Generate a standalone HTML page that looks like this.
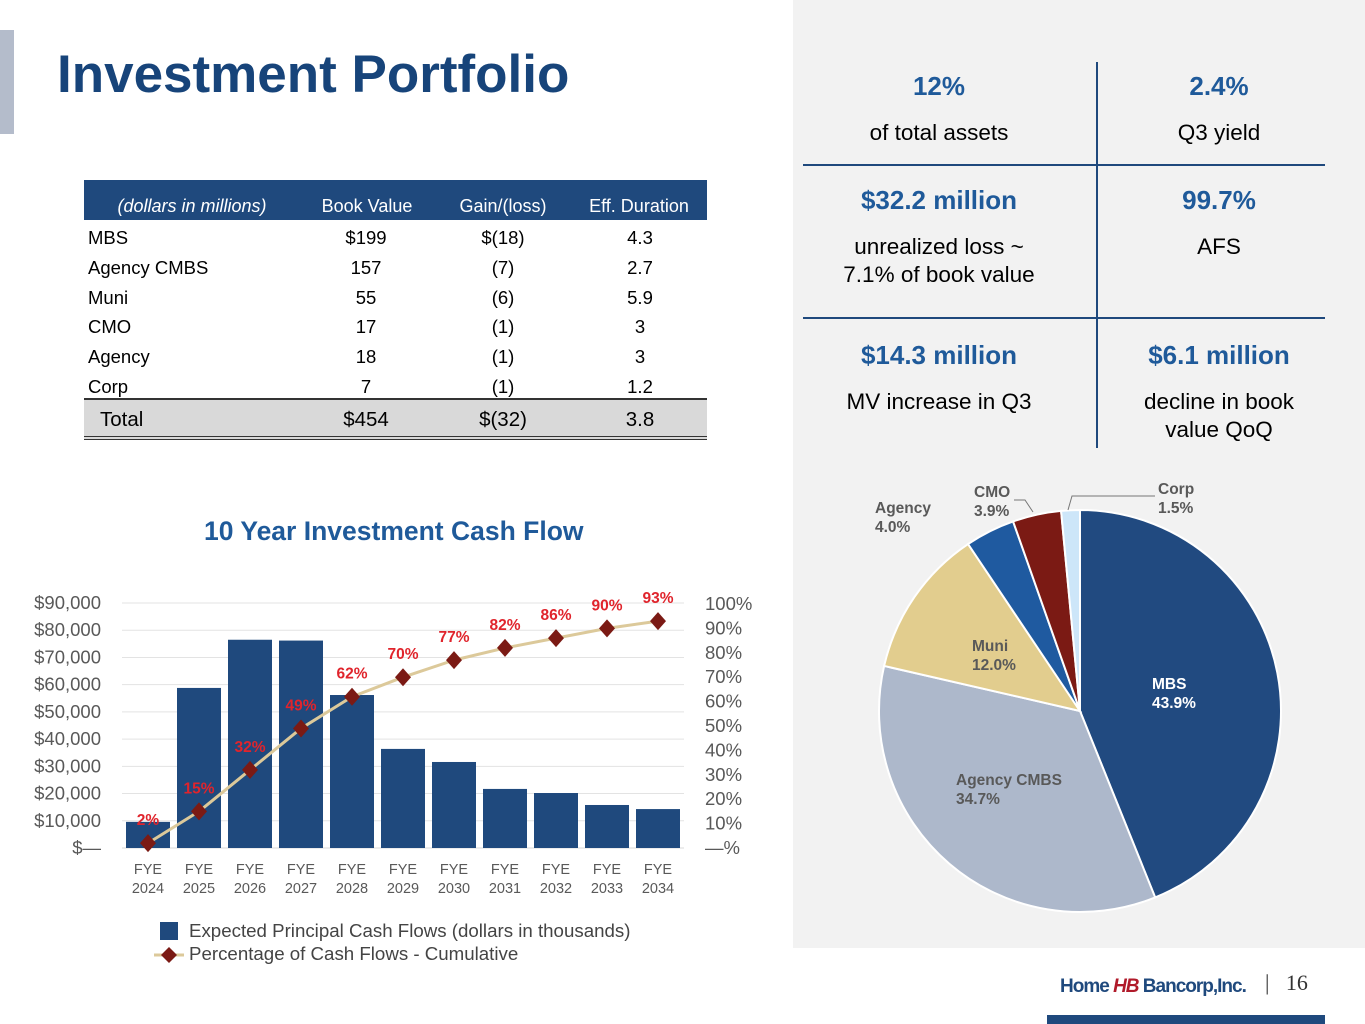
<!DOCTYPE html>
<html><head><meta charset="utf-8"><style>
body{margin:0;width:1365px;height:1024px;position:relative;background:#fff;font-family:"Liberation Sans",sans-serif;overflow:hidden}
.a{position:absolute}
.t{position:absolute;font-size:18px;color:#000;white-space:nowrap}
.stat{position:absolute;width:280px;text-align:center}
.big{color:#1f5a9a;font-weight:bold;font-size:26px}
.sm{font-size:22.5px;color:#000;line-height:28px}
</style></head><body>
<div class="a" style="left:0;top:30px;width:14px;height:104px;background:#b4bccb"></div>
<div class="a" style="left:57px;top:44px;font-size:53px;font-weight:bold;color:#17447a">Investment Portfolio</div>
<div class="a" style="left:793px;top:0;width:572px;height:948px;background:#f2f2f2"></div>

<div>
<div class="a" style="left:84px;top:180px;width:623px;height:40px;background:#1f497d"></div>
<div class="a" style="left:84px;top:398px;width:623px;height:36px;background:#d9d9d9;border-top:2px solid #333;border-bottom:4px double #333"></div>
<div id="tbl"></div>
</div>

<div>
<div class="a" style="left:1096px;top:62px;width:2px;height:386px;background:#1f497d"></div>
<div class="a" style="left:803px;top:164px;width:522px;height:2px;background:#1f497d"></div>
<div class="a" style="left:803px;top:317px;width:522px;height:2px;background:#1f497d"></div>
<div class="stat" style="left:799px;top:71px"><div class="big">12%</div><div class="sm" style="margin-top:17px">of total assets</div></div>
<div class="stat" style="left:1079px;top:71px"><div class="big">2.4%</div><div class="sm" style="margin-top:17px">Q3 yield</div></div>
<div class="stat" style="left:799px;top:185px"><div class="big">$32.2 million</div><div class="sm" style="margin-top:17px">unrealized loss ~<br>7.1% of book value</div></div>
<div class="stat" style="left:1079px;top:185px"><div class="big">99.7%</div><div class="sm" style="margin-top:17px">AFS</div></div>
<div class="stat" style="left:799px;top:340px"><div class="big">$14.3 million</div><div class="sm" style="margin-top:17px">MV increase in Q3</div></div>
<div class="stat" style="left:1079px;top:340px"><div class="big">$6.1 million</div><div class="sm" style="margin-top:17px">decline in book<br>value QoQ</div></div>
</div>

<div class="a" style="left:204px;top:516px;font-size:26.5px;font-weight:bold;color:#1f5a9a">10 Year Investment Cash Flow</div>
<svg class="a" style="left:0;top:0" width="1365" height="1024" id="svg"></svg>

<div class="a" style="left:160px;top:922px;width:18px;height:18px;background:#1f497d"></div>
<div class="t" style="left:189px;top:920px;color:#444;font-size:18.7px">Expected Principal Cash Flows (dollars in thousands)</div>
<svg class="a" style="left:154px;top:945px" width="30" height="20"><line x1="0" y1="10" x2="30" y2="10" stroke="#dcc99a" stroke-width="3"/><polygon points="15,2 23,10 15,18 7,10" fill="#7b1a14"/></svg>
<div class="t" style="left:189px;top:943px;color:#444;font-size:18.7px">Percentage of Cash Flows - Cumulative</div>

<div class="a" style="left:1060px;top:976px;font-size:19px;font-weight:bold;color:#1f497d;letter-spacing:-1px">Home<span style="color:#b01a2a;font-style:italic"> HB </span>Bancorp,Inc.</div>
<div class="a" style="left:1265px;top:970px;font-size:22px;color:#333;font-family:'Liberation Serif',serif">|&nbsp;&nbsp;&nbsp;16</div>
<div class="a" style="left:1047px;top:1015px;width:278px;height:9px;background:#1f497d"></div>

<script>
const ns="http://www.w3.org/2000/svg";
const svg=document.getElementById('svg');
function mk(tag,attrs,parent){const e=document.createElementNS(ns,tag);for(const k in attrs)e.setAttribute(k,attrs[k]);(parent||svg).appendChild(e);return e;}
function txt(x,y,s,attrs){const e=mk('text',Object.assign({x:x,y:y},attrs));e.textContent=s;return e;}

// table
const rowLabels=["MBS","Agency CMBS","Muni","CMO","Agency","Corp"];
const bookVals=["$199","157","55","17","18","7"];
const gainVals=["$(18)","(7)","(6)","(1)","(1)","(1)"];
const durVals=["4.3","2.7","5.9","3","3","1.2"];
const tbl=document.getElementById('tbl');
function cell(x,y,s,center,extra){const d=document.createElement('div');d.className='t';d.style.left=x+'px';d.style.top=y+'px';if(center){d.style.width='120px';d.style.marginLeft='-60px';d.style.textAlign='center';}d.style.cssText+=extra||'';d.textContent=s;tbl.appendChild(d);return d;}
const hdr=[["(dollars in millions)",192],["Book Value",367],["Gain/(loss)",503],["Eff. Duration",639]];
hdr.forEach((h,i)=>{const c=cell(h[1],196,h[0],true,'color:#fff;width:200px;margin-left:-100px;font-size:18px;'+(i==0?'font-style:italic;':''));});
rowLabels.forEach((r,i)=>{const y=227+i*29.8;
const c=cell(88,y,r,false,'font-size:18.5px');
cell(366,y,bookVals[i],true,'font-size:18.5px');cell(503,y,gainVals[i],true,'font-size:18.5px');cell(640,y,durVals[i],true,'font-size:18.5px');});
cell(100,408,"Total",false,'font-size:20.5px');cell(366,408,"$454",true,'font-size:20.5px');cell(503,408,"$(32)",true,'font-size:20.5px');cell(640,408,"3.8",true,'font-size:20.5px');

// bar chart
const years=["2024","2025","2026","2027","2028","2029","2030","2031","2032","2033","2034"];
const cashFlows=[9600,58800,76500,76200,56200,36400,31600,21700,20200,15800,14300];
const cumPct=[2,15,32,49,62,70,77,82,86,90,93];
const yTicks=["$—","$10,000","$20,000","$30,000","$40,000","$50,000","$60,000","$70,000","$80,000","$90,000"];
const pTicks=["—%","10%","20%","30%","40%","50%","60%","70%","80%","90%","100%"];
const y0=848, yTop=603;
const yS=v=>y0-(v/90000)*(y0-yTop);
const pS=p=>y0-(p/100)*(y0-604);
const xS=i=>148+i*51;
for(let i=0;i<=9;i++){const y=yS(i*10000);
 if(i>0)mk('line',{x1:122,x2:684,y1:y,y2:y,stroke:'#e3e3e3','stroke-width':1});
 const t=txt(101,y+6,yTicks[i],{'text-anchor':'end','font-size':18.5,fill:'#595959','font-family':'Liberation Sans'});
 }
mk('line',{x1:122,x2:684,y1:y0,y2:y0,stroke:'#d9d9d9','stroke-width':1});
for(let i=0;i<=10;i++){const t=txt(705,pS(i*10)+6,pTicks[i],{'font-size':18.5,fill:'#595959','font-family':'Liberation Sans'});
 }
cashFlows.forEach((v,i)=>{const r=mk('rect',{x:xS(i)-22,y:yS(v),width:44,height:y0-yS(v),fill:'#1f497d'});
 
 const a=txt(xS(i),874,'FYE',{'text-anchor':'middle','font-size':14.5,fill:'#595959','font-family':'Liberation Sans'});
 
 txt(xS(i),893,years[i],{'text-anchor':'middle','font-size':14.5,fill:'#595959','font-family':'Liberation Sans'});});
const pts=cumPct.map((p,i)=>xS(i)+','+pS(p)).join(' ');
const pl=mk('polyline',{points:pts,fill:'none',stroke:'#dcc99a','stroke-width':3,'stroke-linejoin':'round'});

cumPct.forEach((p,i)=>{const x=xS(i),y=pS(p);
 const d=mk('polygon',{points:`${x},${y-9} ${x+8},${y} ${x},${y+9} ${x-8},${y}`,fill:'#7b1a14'});
 
 const l=txt(x,y-18,p+'%',{'text-anchor':'middle','font-size':15.5,'font-weight':'bold',fill:'#e0242c','font-family':'Liberation Sans'});
 });

// pie
const pieNames=["MBS","Agency CMBS","Muni","Agency","CMO","Corp"];
const pieVals=[43.9,34.7,12.0,4.0,3.9,1.5];
const pieColors=["#214a80","#adb8cb","#e2cd8e","#1f5aa0","#7b1a14","#cde6f9"];
const cx=1080,cy=711,R=201;
let acc=0;const tot=pieVals.reduce((a,b)=>a+b,0);
pieVals.forEach((v,i)=>{const a0=acc/tot*2*Math.PI;acc+=v;const a1=acc/tot*2*Math.PI;
 const p=a=>[cx+R*Math.sin(a),cy-R*Math.cos(a)];const s=p(a0),e=p(a1);
 const path=mk('path',{d:`M${cx},${cy} L${s[0]},${s[1]} A${R},${R} 0 ${a1-a0>Math.PI?1:0} 1 ${e[0]},${e[1]} Z`,fill:pieColors[i],stroke:'#fff','stroke-width':2});
 });
const lab=[[1152,689,'#fff'],[956,785,'#595959'],[972,651,'#595959'],[875,513,'#595959'],[974,497,'#595959'],[1158,494,'#595959']];
pieNames.forEach((n,i)=>{const [x,y,c]=lab[i];
 const t=txt(x,y,n,{'font-size':15.5,'font-weight':'bold',fill:c,'font-family':'Liberation Sans'});
 
 txt(x,y+19,pieVals[i].toFixed(1)+'%',{'font-size':15.5,'font-weight':'bold',fill:c,'font-family':'Liberation Sans'});});
mk('polyline',{points:'1014,500 1025,500 1033,512',fill:'none',stroke:'#777','stroke-width':1});
mk('polyline',{points:'1155,496 1072,496 1068,510',fill:'none',stroke:'#777','stroke-width':1});
</script>
</body></html>
